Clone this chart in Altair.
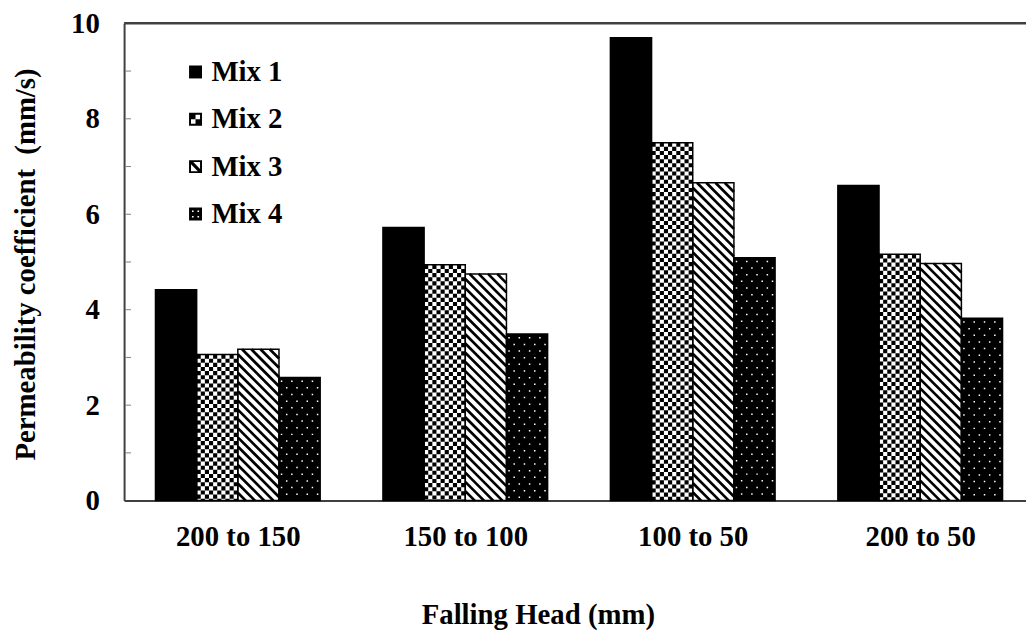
import json
import altair as alt
import pandas as pd

# ---- data ----
GROUPS = ["200 to 150", "150 to 100", "100 to 50", "200 to 50"]
MIXES = ["Mix 1", "Mix 2", "Mix 3", "Mix 4"]
MIX1 = [4.42, 5.72, 9.70, 6.60]
MIX2 = [3.06, 4.94, 7.50, 5.16]
MIX3 = [3.17, 4.75, 6.66, 4.97]
MIX4 = [2.58, 3.49, 5.09, 3.82]
Y_LABELS = [0, 2, 4, 6, 8, 10]
Y_TITLE = "Permeability coefficient\u00a0 (mm/s)"
X_TITLE = "Falling Head (mm)"

series = [MIX1, MIX2, MIX3, MIX4]
rows = []
for mi, (mix, vals) in enumerate(zip(MIXES, series)):
    for gi, (g, v) in enumerate(zip(GROUPS, vals)):
        rows.append({"group": g, "gi": gi, "mix": mix, "mi": mi, "value": v})
df = pd.DataFrame(rows)
legend_df = pd.DataFrame({"mix": MIXES, "mi": list(range(len(MIXES)))})

# ---- layout / style ----
PLOT_W = 901          # visible plot width
RANGE_W = 917         # x range runs slightly past the page edge, as in the reference
PLOT_H = 481
NG = len(GROUPS)
PXX = RANGE_W / NG
PXY = PLOT_H / 10
BW = 0.181            # bar width as a fraction of a group
W_PX = BW * PXX
FONT = "Liberation Serif"
FS = 29
AXIS_COL = "#404040"

base = alt.Chart(df).transform_calculate(
    x0=f"datum.gi + 0.5 + (datum.mi - 2) * {BW}"
).transform_calculate(
    x1=f"datum.x0 + {BW}"
)

xscale = alt.Scale(domain=[0, NG], range=[0, RANGE_W], nice=False, zero=False)
yscale = alt.Scale(domain=[0, 10], nice=False)

label_expr = f"{json.dumps(GROUPS)}[floor(datum.value)]"

bars = base.mark_rect(strokeWidth=0).encode(
    x=alt.X("x0:Q", scale=xscale, axis=alt.Axis(
        values=[i + 0.5 for i in range(NG)], labelExpr=label_expr,
        ticks=False, tickSize=0, grid=False, title=X_TITLE,
        domainColor=AXIS_COL, domainWidth=2, labelPadding=22,
        labelFlush=False, labelOverlap=False,
        titleX=417, titleY=124, titleBaseline="alphabetic", titleAlign="center")),
    x2="x1:Q",
    y=alt.Y("value:Q", scale=yscale, axis=alt.Axis(
        values=Y_LABELS, ticks=False, tickSize=0, grid=False, title=Y_TITLE,
        domainColor=AXIS_COL, domainWidth=2, labelPadding=25,
        titleX=-90, titleY=PLOT_H / 2 + 2, titleAngle=-90,
        titleBaseline="alphabetic", titleAlign="center")),
    y2=alt.datum(0),
    fill=alt.Fill("mix:N", scale=alt.Scale(domain=MIXES, range=["black", "white", "white", "black"]),
                  legend=None),
)

# checkerboard for Mix 2
NC = 10
CW = W_PX / NC
checker_base = base.transform_filter(alt.datum.mix == MIXES[1]).transform_calculate(
    k=f"sequence(0, {NC})"
).transform_flatten(["k"]).transform_calculate(
    xc=f"datum.x0 + (datum.k + 0.5) * {BW / NC}"
)
chk_enc = dict(x=alt.X("xc:Q"), y=alt.Y("value:Q"), y2=alt.datum(0))
checker_even = checker_base.transform_filter("datum.k % 2 == 0").mark_rule(
    color="black", strokeWidth=CW, strokeDash=[CW, CW], strokeCap="butt").encode(**chk_enc)
checker_odd = checker_base.transform_filter("datum.k % 2 == 1").mark_rule(
    color="black", strokeWidth=CW, strokeDash=[CW, CW], strokeDashOffset=CW,
    strokeCap="butt").encode(**chk_enc)

# diagonal stripes for Mix 3
SP = 9.3
SW = 2.7
stripes = base.transform_filter(alt.datum.mix == MIXES[2]).transform_calculate(
    H=f"datum.value * {PXY}"
).transform_calculate(
    k=f"sequence(0, ceil(({W_PX} + datum.H) / {SP}) + 1)"
).transform_flatten(["k"]).transform_calculate(
    c=f"{W_PX} - datum.k * {SP}"
).transform_calculate(
    u1="max(0, datum.c)"
).transform_calculate(
    u2=f"min({W_PX}, datum.H + datum.c)"
).transform_filter("datum.u2 > datum.u1").transform_calculate(
    xa=f"datum.x0 + datum.u1 / {PXX}"
).transform_calculate(
    ya=f"datum.value - (datum.u1 - datum.c) / {PXY}"
).transform_calculate(
    xb=f"datum.x0 + datum.u2 / {PXX}"
).transform_calculate(
    yb=f"datum.value - (datum.u2 - datum.c) / {PXY}"
).mark_rule(color="black", strokeWidth=SW, strokeCap="butt").encode(
    x="xa:Q", y="ya:Q", x2="xb:Q", y2="yb:Q")

# white dots for Mix 4
ND = 8
DW = 1.5
DP = 13.4
dots_base = base.transform_filter(alt.datum.mix == MIXES[3]).transform_calculate(
    k=f"sequence(0, {ND})"
).transform_flatten(["k"]).transform_calculate(
    xc=f"datum.x0 + (datum.k + 0.5) * {BW / ND}"
)
dots_even = dots_base.transform_filter("datum.k % 2 == 0").mark_rule(
    color="white", strokeWidth=DW, strokeDash=[DW, DP - DW], strokeDashOffset=DP - 3,
    strokeCap="butt").encode(**chk_enc)
dots_odd = dots_base.transform_filter("datum.k % 2 == 1").mark_rule(
    color="white", strokeWidth=DW, strokeDash=[DW, DP - DW], strokeDashOffset=DP - 3 - DP / 2,
    strokeCap="butt").encode(**chk_enc)

outline = base.mark_rect(fillOpacity=0, stroke="black", strokeWidth=1.5).encode(
    x="x0:Q", x2="x1:Q", y="value:Q", y2=alt.datum(0))

# inner ticks on the y axis
yticks = alt.Chart(alt.sequence(1, 10, as_="t")).mark_rule(color="#808080", strokeWidth=1).encode(
    y=alt.Y("t:Q"), x=alt.value(1), x2=alt.value(7))

# top frame line
topline = alt.Chart(alt.sequence(0, 1, as_="t")).mark_rule(color=AXIS_COL, strokeWidth=2.5).encode(
    y=alt.value(0), x=alt.value(0), x2=alt.value(RANGE_W))

# ---- legend drawn as marks (patterned symbols) ----
P_SOLID = "M-1,-1H1V1H-1Z"
P_CHECK = ("M-1,-1H1V1H-1Z M-0.7,-0.7V0.7H0.7V-0.7Z "
           "M-0.7,-0.7H0V0H-0.7Z M0,0H0.7V0.7H0Z")
P_STRIPE = ("M-1,-1H1V1H-1Z M-0.7,-0.7V0.7H0.7V-0.7Z "
            "M-0.7,-0.7L-0.35,-0.7L0.7,0.35L0.7,0.7L0.35,0.7L-0.7,-0.35Z")
P_DOTS = ("M-1,-1H1V1H-1Z M-0.55,-0.55V-0.3H-0.3V-0.55Z "
          "M0.3,0.3V0.55H0.55V0.3Z M0.3,-0.55V-0.3H0.55V-0.55Z M-0.55,0.3V0.55H-0.3V0.3Z")
LEG_X0, LEG_Y0, LEG_DY, LEG_TX = 72, 49, 47.7, 88

leg = alt.Chart(legend_df).transform_calculate(
    py=f"{LEG_Y0} + datum.mi * {LEG_DY}"
)
leg_sym = leg.mark_point(filled=True, size=170, color="black", opacity=1, strokeWidth=0).encode(
    x=alt.value(LEG_X0),
    y=alt.Y("py:Q", scale=None, axis=None),
    shape=alt.Shape("mix:N", scale=alt.Scale(domain=MIXES, range=[P_SOLID, P_CHECK, P_STRIPE, P_DOTS]),
                    legend=None),
)
leg_txt = leg.mark_text(align="left", baseline="middle", font=FONT, fontSize=FS,
                        fontWeight="bold", color="black").encode(
    x=alt.value(LEG_TX),
    y=alt.Y("py:Q", scale=None, axis=None),
    text="mix:N",
)

chart = alt.layer(
    bars, checker_even, checker_odd, stripes, dots_even, dots_odd, outline, yticks, topline,
    leg_sym, leg_txt
).properties(
    width=PLOT_W, height=PLOT_H,
    padding={"left": 117, "top": 13, "right": 8, "bottom": 135},
    autosize=alt.AutoSizeParams(type="none"),
).configure_view(stroke=None).configure_axis(
    labelFont=FONT, titleFont=FONT, labelFontWeight="bold", titleFontWeight="bold",
    labelColor="black", titleColor="black", labelFontSize=FS, titleFontSize=FS,
)

chart.save("out.html", embed_options={"renderer": "svg", "actions": False})
